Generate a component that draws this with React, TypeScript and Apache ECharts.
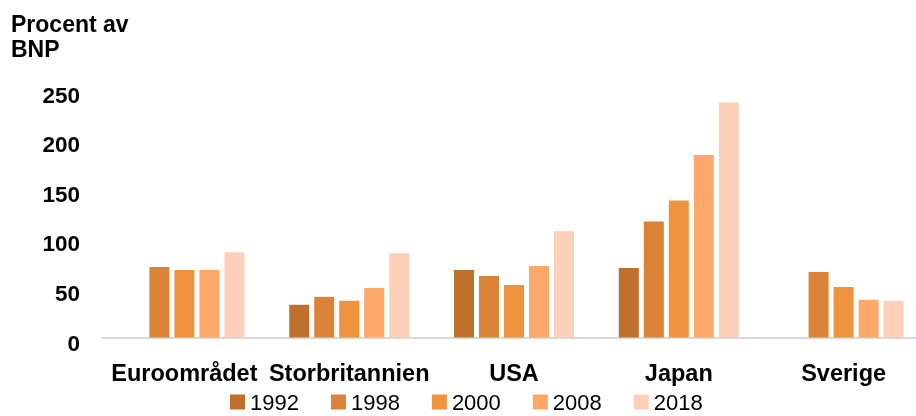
import React, { useEffect, useRef } from "react";
import * as echarts from "echarts";

const categories = ["Euroområdet", "Storbritannien", "USA", "Japan", "Sverige"];
const years = ["1992", "1998", "2000", "2008", "2018"];
const s1992 = [null, 33, 68, 70, null];
const s1998 = [71, 41, 62, 117, 66];
const s2000 = [68, 37, 53, 138, 51];
const s2008 = [68, 50, 72, 184, 38];
const s2018 = [86, 85, 107, 237, 37];
const seriesValues = [s1992, s1998, s2000, s2008, s2018];
const colors = ["#bf702d", "#db8336", "#f0933f", "#fea86a", "#fdd0b9"];
const yTicks = { min: 0, max: 250, interval: 50 };

const FONT = "'Liberation Sans', Arial, sans-serif";

export default function App() {
  const ref = useRef<HTMLDivElement>(null);
  useEffect(() => {
    if (!ref.current) return;
    const chart = echarts.init(ref.current, null, { renderer: "svg" });
    chart.setOption({
      animation: false,
      textStyle: { fontFamily: FONT },
      title: {
        text: "Procent av\nBNP",
        left: 6,
        top: 6,
        textStyle: {
          fontFamily: FONT,
          fontSize: 23,
          fontWeight: "bold",
          color: "#000",
          lineHeight: 25,
        },
      },
      legend: {
        data: years,
        left: 230,
        top: 391,
        padding: 0,
        itemWidth: 15,
        itemHeight: 15,
        itemGap: 32,
        icon: "rect",
        textStyle: { fontFamily: FONT, fontSize: 22, color: "#000", lineHeight: 20 },
      },
      grid: {
        left: 102,
        right: -10,
        top: 89.5,
        bottom: 78.5,
        outerBoundsMode: "none",
      },
      xAxis: {
        type: "category",
        data: categories,
        axisLine: { show: true, lineStyle: { color: "#d9d9d9", width: 2 } },
        axisTick: { show: false },
        axisLabel: {
          interval: 0,
          margin: 23,
          fontFamily: FONT,
          fontSize: 23.5,
          fontWeight: "bold",
          color: "#000",
        },
      },
      yAxis: {
        type: "value",
        min: yTicks.min,
        max: yTicks.max,
        interval: yTicks.interval,
        axisLine: { show: false },
        axisTick: { show: false },
        splitLine: { show: false },
        axisLabel: {
          margin: 22,
          color: "#000",
          formatter: "{a|{value}}",
          rich: {
            a: {
              fontFamily: FONT,
              fontSize: 22.5,
              fontWeight: "bold",
              color: "#000",
              padding: [11, 0, 0, 0],
            },
          },
        },
      },
      series: years.map((y, i) => ({
        name: y,
        type: "bar",
        data: seriesValues[i],
        barWidth: 20,
        barGap: "25%",
        itemStyle: { color: colors[i] },
      })),
    });
    return () => chart.dispose();
  }, []);
  return (
    <div
      ref={ref}
      style={{ position: "fixed", left: 0, top: 0, width: 916, height: 416 }}
    />
  );
}
